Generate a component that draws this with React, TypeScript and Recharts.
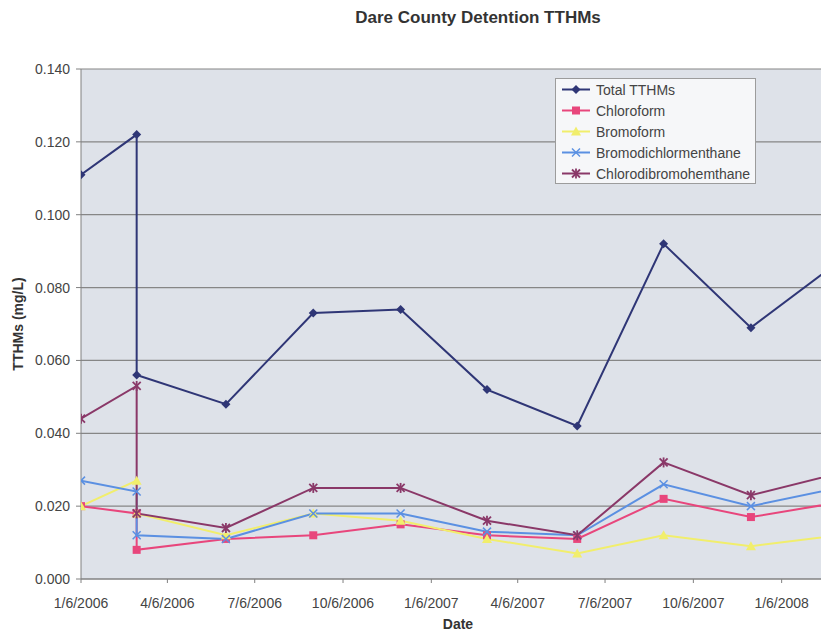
import { LineChart, Line, XAxis, YAxis, CartesianGrid, Legend } from "recharts";

const dates = [
  "2006-01-06", "2006-03-05", "2006-03-05", "2006-06-06", "2006-09-05", "2006-12-05",
  "2007-03-05", "2007-06-07", "2007-09-05", "2007-12-05", "2008-03-05",
];
const total = [0.111, 0.122, 0.056, 0.048, 0.073, 0.074, 0.052, 0.042, 0.092, 0.069, 0.087];
const chloroform = [0.02, 0.018, 0.008, 0.011, 0.012, 0.015, 0.012, 0.011, 0.022, 0.017, 0.021];
const bromoform = [0.02, 0.027, 0.018, 0.012, 0.018, 0.016, 0.011, 0.007, 0.012, 0.009, 0.012];
const bromodichlor = [0.027, 0.024, 0.012, 0.011, 0.018, 0.018, 0.013, 0.012, 0.026, 0.02, 0.025];
const chlorodibromo = [0.044, 0.053, 0.018, 0.014, 0.025, 0.025, 0.016, 0.012, 0.032, 0.023, 0.029];

const tickDates = [
  "2006-01-06", "2006-04-06", "2006-07-06", "2006-10-06", "2007-01-06",
  "2007-04-06", "2007-07-06", "2007-10-06", "2008-01-06",
];
const yTicks = [0, 0.02, 0.04, 0.06, 0.08, 0.1, 0.12, 0.14];

const DAY = 86400000;
const toTime = (s: string) => Date.parse(s + "T00:00:00Z");
const start = toTime("2006-01-06");
const end = start + 771 * DAY;

const data = dates.map((d, i) => ({
  t: toTime(d),
  total: total[i],
  chloroform: chloroform[i],
  bromoform: bromoform[i],
  bromodichlor: bromodichlor[i],
  chlorodibromo: chlorodibromo[i],
}));

type Kind = "diamond" | "square" | "triangle" | "x" | "star";

const SERIES: { key: string; name: string; color: string; kind: Kind }[] = [
  { key: "total", name: "Total TTHMs", color: "#2f3676", kind: "diamond" },
  { key: "chloroform", name: "Chloroform", color: "#e8467c", kind: "square" },
  { key: "bromoform", name: "Bromoform", color: "#f1ee6c", kind: "triangle" },
  { key: "bromodichlor", name: "Bromodichlormenthane", color: "#5b90e2", kind: "x" },
  { key: "chlorodibromo", name: "Chlorodibromohemthane", color: "#8a3868", kind: "star" },
];

const FONT = "Arial, 'Liberation Sans', sans-serif";

function Marker({ kind, color, cx, cy }: { kind: Kind; color: string; cx: number; cy: number }) {
  switch (kind) {
    case "diamond":
      return <polygon points={`${cx},${cy - 4.5} ${cx + 4.5},${cy} ${cx},${cy + 4.5} ${cx - 4.5},${cy}`} fill={color} />;
    case "square":
      return <rect x={cx - 4} y={cy - 4} width={8} height={8} fill={color} />;
    case "triangle":
      return <polygon points={`${cx},${cy - 5} ${cx + 5},${cy + 4} ${cx - 5},${cy + 4}`} fill={color} />;
    case "x":
      return (
        <g stroke={color} strokeWidth={1.5}>
          <line x1={cx - 4} y1={cy - 4} x2={cx + 4} y2={cy + 4} />
          <line x1={cx - 4} y1={cy + 4} x2={cx + 4} y2={cy - 4} />
        </g>
      );
    default:
      return (
        <g stroke={color} strokeWidth={1.8}>
          <line x1={cx - 4} y1={cy - 4} x2={cx + 4} y2={cy + 4} />
          <line x1={cx - 4} y1={cy + 4} x2={cx + 4} y2={cy - 4} />
          <line x1={cx} y1={cy - 5} x2={cx} y2={cy + 5} />
        </g>
      );
  }
}

const dotFor = (kind: Kind, color: string) => (props: any) => {
  const { cx, cy, index } = props;
  if (cx == null || cy == null) return <g key={`d-${index}`} />;
  return (
    <g key={`d-${index}`}>
      <Marker kind={kind} color={color} cx={cx} cy={cy} />
    </g>
  );
};

const fmtDate = (v: number) => {
  const d = new Date(v);
  return `${d.getUTCMonth() + 1}/${d.getUTCDate()}/${d.getUTCFullYear()}`;
};

function LegendBox() {
  return (
    <div
      style={{
        width: 199,
        height: 104,
        background: "#f6f7f9",
        border: "1px solid #9c9c9c",
        fontFamily: FONT,
        fontSize: 14,
        color: "#444",
      }}
    >
      {SERIES.map((s) => (
        <div key={s.key} style={{ height: 21, display: "flex", alignItems: "center" }}>
          <svg width={40} height={21} style={{ flex: "none" }}>
            <line x1={6} y1={10.5} x2={34} y2={10.5} stroke={s.color} strokeWidth={2} />
            <Marker kind={s.kind} color={s.color} cx={20} cy={10.5} />
          </svg>
          <span>{s.name}</span>
        </div>
      ))}
    </div>
  );
}

export default function App() {
  return (
    <div
      style={{
        position: "fixed",
        left: 0,
        top: 0,
        width: 821,
        height: 633,
        background: "#ffffff",
        fontFamily: FONT,
        overflow: "hidden",
      }}
    >
      <div
        style={{
          position: "absolute",
          left: 278,
          width: 400,
          top: 8,
          textAlign: "center",
          fontSize: 17,
          fontWeight: "bold",
          color: "#333",
        }}
      >
        Dare County Detention TTHMs
      </div>
      <div
        style={{
          position: "absolute",
          left: 18,
          top: 324,
          transform: "translate(-50%, -50%) rotate(-90deg)",
          whiteSpace: "nowrap",
          fontSize: 14,
          fontWeight: "bold",
          color: "#333",
        }}
      >
        TTHMs (mg/L)
      </div>
      <div
        style={{
          position: "absolute",
          left: 408,
          width: 100,
          top: 616,
          textAlign: "center",
          fontSize: 14,
          fontWeight: "bold",
          color: "#333",
        }}
      >
        Date
      </div>
      <LineChart
        width={821}
        height={633}
        data={data}
        margin={{ top: 69, right: 0, bottom: 24, left: 0 }}
      >
        <CartesianGrid vertical={false} stroke="#868686" strokeWidth={1.2} fill="#dee2e9" />
        <XAxis
          type="number"
          dataKey="t"
          domain={[start, end]}
          allowDataOverflow
          ticks={tickDates.map(toTime)}
          tickFormatter={fmtDate}
          height={30}
          stroke="#808080"
          tickSize={4}
          tickMargin={15}
          tick={{ fill: "#444", fontSize: 14, fontFamily: FONT }}
        />
        <YAxis
          type="number"
          domain={[0, 0.14]}
          ticks={yTicks}
          tickFormatter={(v: number) => v.toFixed(3)}
          width={81}
          stroke="#808080"
          tickSize={5}
          tickMargin={6}
          tick={{ fill: "#444", fontSize: 14, fontFamily: FONT }}
        />
        <Legend
          layout="vertical"
          verticalAlign="middle"
          align="center"
          content={() => <LegendBox />}
          wrapperStyle={{ left: 555, top: 78, width: 201 }}
        />
        {SERIES.map((s) => (
          <Line
            key={s.key}
            type="linear"
            dataKey={s.key}
            name={s.name}
            stroke={s.color}
            strokeWidth={2}
            dot={dotFor(s.kind, s.color)}
            activeDot={false}
            isAnimationActive={false}
          />
        ))}
      </LineChart>
    </div>
  );
}
